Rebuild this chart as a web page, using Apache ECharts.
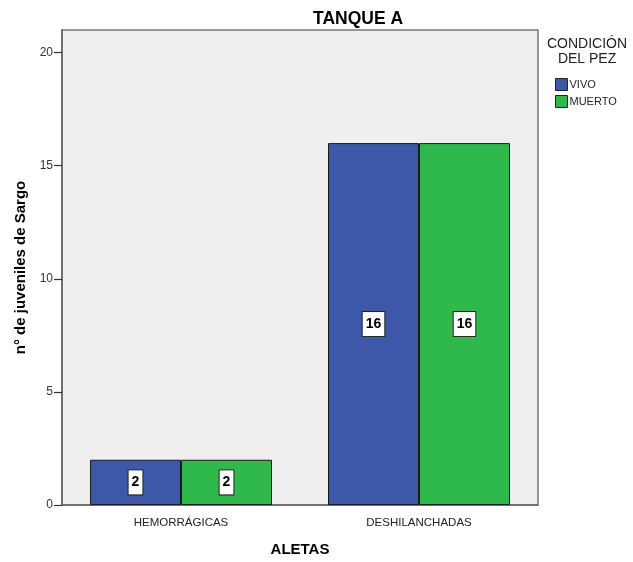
<!DOCTYPE html>
<html>
<head>
<meta charset="utf-8">
<script src="https://cdn.jsdelivr.net/npm/echarts@6/dist/echarts.min.js"></script>
<style>
  html, body { margin: 0; padding: 0; background: #fff; }
  #main { width: 633px; height: 562px; }
</style>
</head>
<body>
<div id="main"></div>
<script>
// datos
var categorias = ['HEMORRÁGICAS', 'DESHILANCHADAS'];
var vivo = [2, 16];
var muerto = [2, 16];
var ticksY = [0, 5, 10, 15, 20];

var myChart = echarts.init(document.getElementById('main'));

var fuente = 'Liberation Sans, Arial, sans-serif';

// etiqueta en caja blanca dentro de la barra
var etiqueta = {
    show: true,
    position: 'inside',
    backgroundColor: '#fff',
    borderColor: '#222',
    borderWidth: 1,
    padding: [6, 3, 4, 3],
    color: '#000',
    fontWeight: 'bold',
    fontSize: 14,
    fontFamily: fuente
};

var option = {
    animation: false,
    textStyle: { fontFamily: fuente },
    title: {
        text: 'TANQUE A',
        left: 308,
        top: 5,
        textStyle: { fontSize: 17.5, fontWeight: 'bold', color: '#000', fontFamily: fuente }
    },
    graphic: [{
        type: 'text',
        left: 547,
        top: 37,
        style: {
            text: 'CONDICIÓN\nDEL PEZ',
            textAlign: 'center',
            fill: '#222',
            font: '14px Liberation Sans, Arial',
            lineHeight: 15
        }
    }],
    legend: {
        orient: 'vertical',
        left: 550,
        top: 73,
        itemWidth: 12,
        itemHeight: 12,
        itemGap: 4,
        icon: 'rect',
        textStyle: { fontSize: 11, color: '#222', padding: [0, 0, 0, -3] },
        data: ['VIVO', 'MUERTO'],
        itemStyle: { borderColor: '#222', borderWidth: 1 }
    },
    grid: {
        left: 62,
        top: 30,
        right: 95,
        bottom: 56,
        show: true,
        backgroundColor: '#efefef',
        borderColor: '#777',
        borderWidth: 1.5
    },
    xAxis: {
        type: 'category',
        data: categorias,
        name: 'ALETAS',
        nameLocation: 'middle',
        nameGap: 37,
        nameTextStyle: { fontSize: 15, fontWeight: 'bold', color: '#000' },
        axisLine: { lineStyle: { color: '#666', width: 1.5 } },
        axisTick: { alignWithLabel: true, length: 7, lineStyle: { color: '#222' } },
        axisLabel: { fontSize: 11.5, color: '#222', margin: 12 }
    },
    yAxis: {
        type: 'value',
        min: 0,
        max: 21,
        interval: 5,
        name: 'n° de juveniles de Sargo',
        nameLocation: 'middle',
        nameGap: 29,
        nameTextStyle: { fontSize: 15, fontWeight: 'bold', color: '#000' },
        splitLine: { show: false },
        axisLine: { show: true, lineStyle: { color: '#666', width: 1.5 } },
        axisTick: { show: true, length: 8, customValues: ticksY, lineStyle: { color: '#333', width: 1.2 } },
        axisLabel: {
            fontSize: 12,
            color: '#333',
            margin: 9,
            customValues: ticksY
        }
    },
    series: [
        {
            name: 'VIVO',
            type: 'bar',
            data: vivo,
            barWidth: 91,
            barGap: '0%',
            itemStyle: { color: '#3d57a9', borderColor: '#1a1a1a', borderWidth: 1 },
            label: etiqueta
        },
        {
            name: 'MUERTO',
            type: 'bar',
            data: muerto,
            barWidth: 91,
            barGap: '0%',
            itemStyle: { color: '#2fb84b', borderColor: '#1a1a1a', borderWidth: 1 },
            label: etiqueta
        }
    ]
};

myChart.setOption(option);
window.onresize = myChart.resize;
</script>
</body>
</html>
